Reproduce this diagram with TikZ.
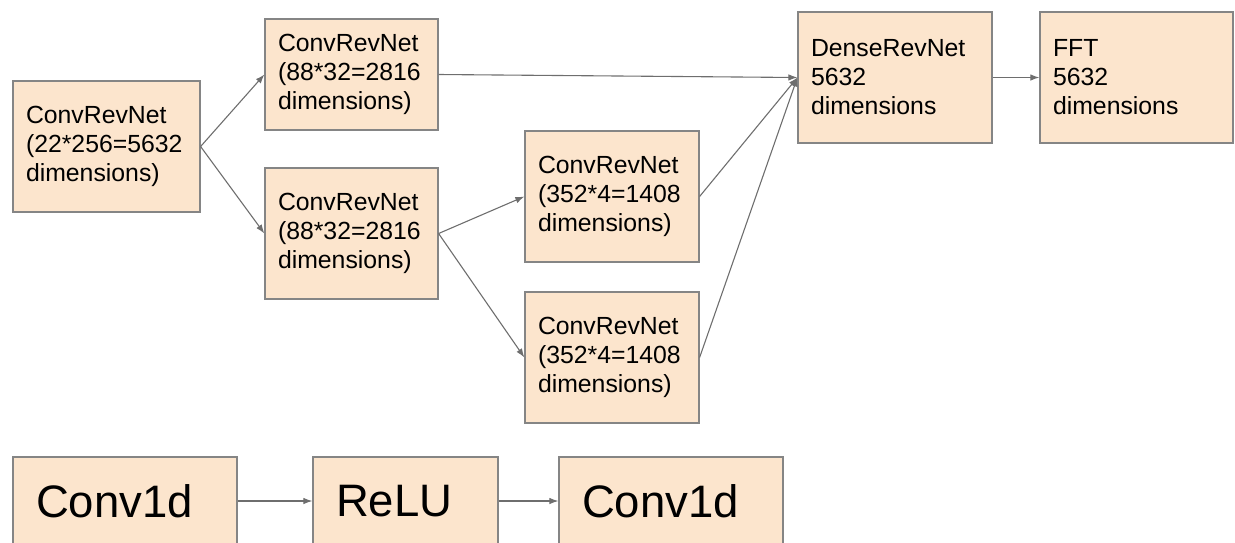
\documentclass[tikz,border=0pt]{standalone}
\usepackage{fontspec}
\setmainfont{Liberation Sans}
\usetikzlibrary{arrows.meta}
\definecolor{boxfill}{HTML}{FCE5CD}
\definecolor{boxline}{HTML}{858585}
\definecolor{arrowline}{HTML}{6E6E6E}
\begin{document}
\begin{tikzpicture}[x=1pt, y=-1pt,
		net box/.style={draw=boxline, fill=boxfill, line width=1.2pt, inner xsep=13pt, inner ysep=0pt, align=left, minimum height=131pt, font=\fontsize{24.8}{29}\selectfont},
		layer box/.style={draw=boxline, fill=boxfill, line width=1.2pt, inner xsep=23pt, inner ysep=0pt, align=left, minimum height=88pt, font=\fontsize{45.5}{50}\selectfont},
		link/.style={draw=arrowline, line width=1.1pt, -{Latex[length=9pt,width=6.5pt]}}]
			\useasboundingbox (0,0) rectangle (1235,542);
			% network
			\node[net box, text width=161pt] (in) at (106.5,146.5) {ConvRevNet\\(22*256=5632\\dimensions)};
			\node[net box, text width=147pt, minimum height=111pt] (top) at (351.5,74.5) {ConvRevNet\\(88*32=2816\\dimensions)};
			\node[net box, text width=147pt] (bot) at (351.5,233.5) {ConvRevNet\\(88*32=2816\\dimensions)};
			\node[net box, text width=148pt] (midA) at (612,196.5) {ConvRevNet\\(352*4=1408\\dimensions)};
			\node[net box, text width=148pt] (midB) at (612,357.5) {ConvRevNet\\(352*4=1408\\dimensions)};
			\node[net box, text width=168pt] (dense) at (895,77.5) {DenseRevNet\\5632\\dimensions};
			\node[net box, text width=167pt] (fft) at (1136.5,77.5) {FFT\\5632\\dimensions};
			% block
			\node[layer box, text width=178pt] (conv1) at (125,501) {Conv1d};
			\node[layer box, text width=139pt] (relu) at (405.5,501) {ReLU};
			\node[layer box, text width=178pt] (conv2) at (671,501) {Conv1d};
			\foreach \a/\b in {in/top, in/bot, top/dense, bot/midA, bot/midB, midA/dense, midB/dense, dense/fft, conv1/relu, relu/conv2}{
			  \draw[link] (\a.east) -- (\b.west);
			}
\end{tikzpicture}
\end{document}
